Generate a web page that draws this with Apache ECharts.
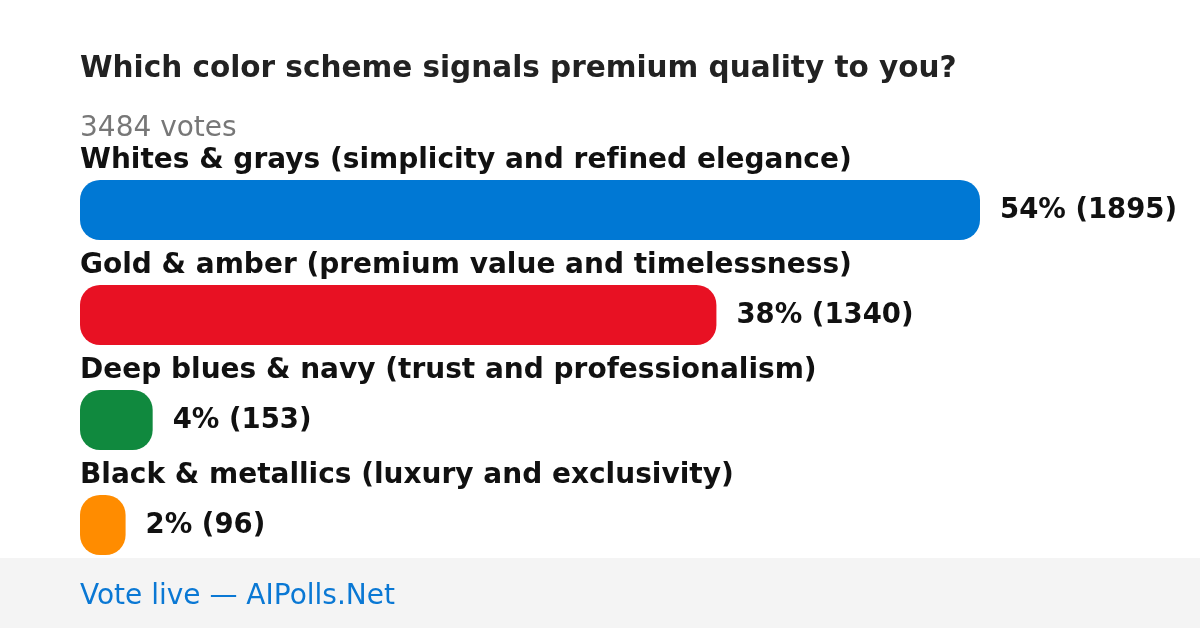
<!DOCTYPE html>
<html><head><meta charset="utf-8">
<script src="https://cdn.jsdelivr.net/npm/echarts@6/dist/echarts.min.js"></script>
<style>html,body{margin:0;padding:0;background:#fff}#c{width:1200px;height:628px}</style>
</head><body><div id="c"></div>
<script>
const titleText = "Which color scheme signals premium quality to you?";
const totalVotes = 3484;
const categories = [
  "Whites & grays (simplicity and refined elegance)",
  "Gold & amber (premium value and timelessness)",
  "Deep blues & navy (trust and professionalism)",
  "Black & metallics (luxury and exclusivity)"
];
const votes = [1895, 1340, 153, 96];
const percents = [54, 38, 4, 2];
const colors = ["#0078d4", "#e81123", "#10893e", "#ff8c00"];
const footerText = "Vote live — AIPolls.Net";

const font = "DejaVu Sans";
const noLig = s => s.replace(/f([il])/g, 'f\u200c$1');
const chart = echarts.init(document.getElementById('c'));
chart.setOption({
  animation: false,
  backgroundColor: '#ffffff',
  grid: {left: 80, width: 900, top: 157.5, height: 420},
  xAxis: {type: 'value', min: 0, max: votes[0], show: false},
  yAxis: {
    type: 'category', data: categories, inverse: true,
    axisLine: {show: false}, axisTick: {show: false}, splitLine: {show: false},
    axisLabel: {
      inside: true, margin: 0, align: 'left', verticalAlign: 'middle',
      formatter: v => '{n|' + noLig(v) + '}\n{s| }',
      rich: {
        n: {fontFamily: font, fontWeight: 'bold', fontSize: 28, lineHeight: 34, color: '#111111'},
        s: {fontSize: 10, lineHeight: 98}
      }
    },
    z: 5
  },
  series: [{
    type: 'bar', barWidth: 60,
    data: votes.map((v, i) => ({value: v, itemStyle: {color: colors[i]}})),
    itemStyle: {borderRadius: 20},
    label: {
      show: true, position: 'right', distance: 20, offset: [0, 1],
      fontFamily: font, fontWeight: 'bold', fontSize: 27.5, color: '#111111',
      formatter: p => percents[p.dataIndex] + '% (' + p.value + ')'
    }
  }],
  graphic: [
    {type: 'text', position: [80, 69], style: {text: titleText, font: 'bold 29.5px "DejaVu Sans"', fill: '#222222', verticalAlign: 'middle'}, z: 10},
    {type: 'text', position: [80, 129], style: {text: totalVotes + ' votes', font: '28px "DejaVu Sans"', fill: '#777777', verticalAlign: 'middle'}, z: 10},
    {type: 'rect', shape: {x: 0, y: 558, width: 1200, height: 70}, style: {fill: '#f4f4f4'}, z: 1},
    {type: 'text', position: [80, 597], style: {text: footerText, font: '28px "DejaVu Sans"', fill: '#0a78d4', verticalAlign: 'middle'}, z: 10}
  ]
});
</script></body></html>
